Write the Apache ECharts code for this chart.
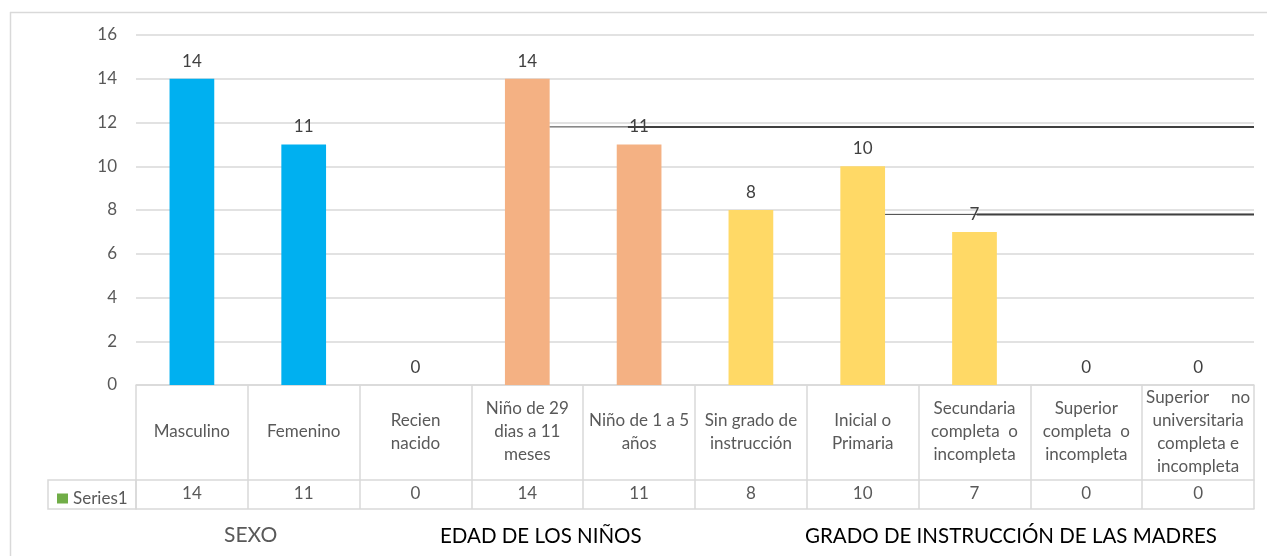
<!DOCTYPE html>
<html>
<head>
<meta charset="utf-8">
<script src="https://cdn.jsdelivr.net/npm/echarts@6/dist/echarts.min.js"></script>
<style>
  html, body { margin: 0; padding: 0; background: #ffffff; }
  #chart { width: 1267px; height: 556px; }
</style>
</head>
<body>
<div id="chart"></div>
<script>
// Categories (line breaks as shown in the table header)
const categorias = [
  'Masculino',
  'Femenino',
  'Recien\nnacido',
  'Niño de 29\ndias a 11\nmeses',
  'Niño de 1 a 5\naños',
  'Sin grado de\ninstrucción',
  'Inicial o\nPrimaria',
  'Secundaria\ncompleta  o\nincompleta',
  'Superior\ncompleta  o\nincompleta',
  'Superior     no\nuniversitaria\ncompleta e\nincompleta'
];
const valores = [14, 11, 0, 14, 11, 8, 10, 7, 0, 0];
const grupo = [0, 0, 1, 1, 1, 2, 2, 2, 2, 2];
const coloresGrupo = ['#00B0F0', '#F4B183', '#FFD966'];
const titulosGrupo = ['SEXO', 'EDAD DE LOS NIÑOS', 'GRADO DE INSTRUCCIÓN DE LAS MADRES'];
const nombreSerie = 'Series1';
const ticksY = [0, 2, 4, 6, 8, 10, 12, 14, 16];

// Two horizontal strokes across the right part of the plot (x in category units, y in values)
const trazoAlto = [[3.7, 11.8], [10, 11.8]];
const trazoAltoGrueso = [[4.4, 11.8], [10, 11.8]];
const trazoBajo = [[6.7, 7.8], [10, 7.8]];
const trazoBajoGrueso = [[7.52, 7.8], [10, 7.8]];

const FONT = 'Lato, "Open Sans", sans-serif';
const GRIS = '#d9d9d9';
const TEXTO = '#595959';
const TAM = 17;

const chart = echarts.init(document.getElementById('chart'), null, { renderer: 'canvas' });

const strokeSeries = (data, width) => ({
  type: 'line',
  xAxisIndex: 3,
  yAxisIndex: 0,
  data: data,
  symbol: 'none',
  silent: true,
  z: 5,
  lineStyle: { color: '#404040', width: width },
  animation: false
});

const option = {
  animation: false,
  backgroundColor: '#ffffff',
  textStyle: { fontFamily: FONT },
  grid: { left: 136, right: 13, top: 35, bottom: 171, containLabel: false },
  legend: {
    data: [nombreSerie],
    left: 52,
    top: 485,
    icon: 'rect',
    itemWidth: 11,
    itemHeight: 10,
    itemGap: 6,
    textStyle: { fontFamily: FONT, fontSize: TAM, color: TEXTO, padding: [0, 0, 0, 0] },
    selectedMode: false
  },
  xAxis: [
    {
      type: 'category',
      data: categorias,
      position: 'bottom',
      axisLine: { show: true, lineStyle: { color: GRIS, width: 1.5 } },
      axisTick: { show: true, length: 124, interval: 0, lineStyle: { color: GRIS, width: 1.5 } },
      axisLabel: {
        interval: 0,
        margin: 47,
        verticalAlign: 'middle',
        align: 'center',
        lineHeight: 23,
        fontFamily: FONT,
        fontSize: TAM,
        color: TEXTO
      },
      splitLine: { show: false }
    },
    {
      type: 'category',
      data: categorias,
      position: 'bottom',
      offset: 95,
      axisLine: { show: true, lineStyle: { color: GRIS, width: 1.5 } },
      axisTick: { show: false },
      axisLabel: {
        interval: 0,
        margin: 14,
        verticalAlign: 'middle',
        fontFamily: FONT,
        fontSize: TAM,
        color: TEXTO,
        formatter: (v, i) => String(valores[i])
      }
    },
    {
      type: 'category',
      data: categorias,
      position: 'bottom',
      offset: 124,
      axisLine: { show: true, lineStyle: { color: GRIS, width: 1.5 } },
      axisTick: { show: false },
      axisLabel: { show: false }
    },
    {
      type: 'value',
      min: 0,
      max: 10,
      show: false
    }
  ],
  yAxis: {
    type: 'value',
    min: ticksY[0],
    max: ticksY[ticksY.length - 1],
    interval: 2,
    axisLine: { show: false },
    axisTick: { show: false },
    axisLabel: { margin: 19, fontFamily: FONT, fontSize: TAM, color: TEXTO },
    splitLine: { show: true, lineStyle: { color: GRIS, width: 1.5 } }
  },
  series: [
    {
      name: nombreSerie,
      type: 'bar',
      xAxisIndex: 0,
      yAxisIndex: 0,
      barWidth: '40%',
      itemStyle: { color: '#70AD47' },
      data: valores.map((v, i) => ({ value: v, itemStyle: { color: coloresGrupo[grupo[i]] } })),
      label: {
        show: true,
        position: 'top',
        distance: 9,
        fontFamily: FONT,
        fontSize: TAM,
        color: '#404040'
      },
      z: 2
    },
    strokeSeries(trazoAlto, 1),
    strokeSeries(trazoAltoGrueso, 2),
    strokeSeries(trazoBajo, 1),
    strokeSeries(trazoBajoGrueso, 2)
  ],
  graphic: [
    // chart frame (top and left edges)
    { type: 'line', shape: { x1: 10, y1: 12.5, x2: 1267, y2: 12.5 }, style: { stroke: GRIS, lineWidth: 1.5 }, silent: true },
    { type: 'line', shape: { x1: 10.5, y1: 12, x2: 10.5, y2: 556 }, style: { stroke: GRIS, lineWidth: 1.5 }, silent: true },
    // legend key cell of the data table
    { type: 'rect', shape: { x: 48, y: 480, width: 88, height: 29 }, style: { fill: 'none', stroke: GRIS, lineWidth: 1.5 }, silent: true, z: -1 },
    // group titles under the table
    { type: 'text', left: 224, top: 525, style: { text: titulosGrupo[0], font: '21px ' + FONT, fill: TEXTO } },
    { type: 'text', left: 440, top: 526, style: { text: titulosGrupo[1], font: '20.5px ' + FONT, fill: '#000000' } },
    { type: 'text', left: 805, top: 526, style: { text: titulosGrupo[2], font: '20.5px ' + FONT, fill: '#000000' } }
  ]
};

chart.setOption(option);
</script>
</body>
</html>
